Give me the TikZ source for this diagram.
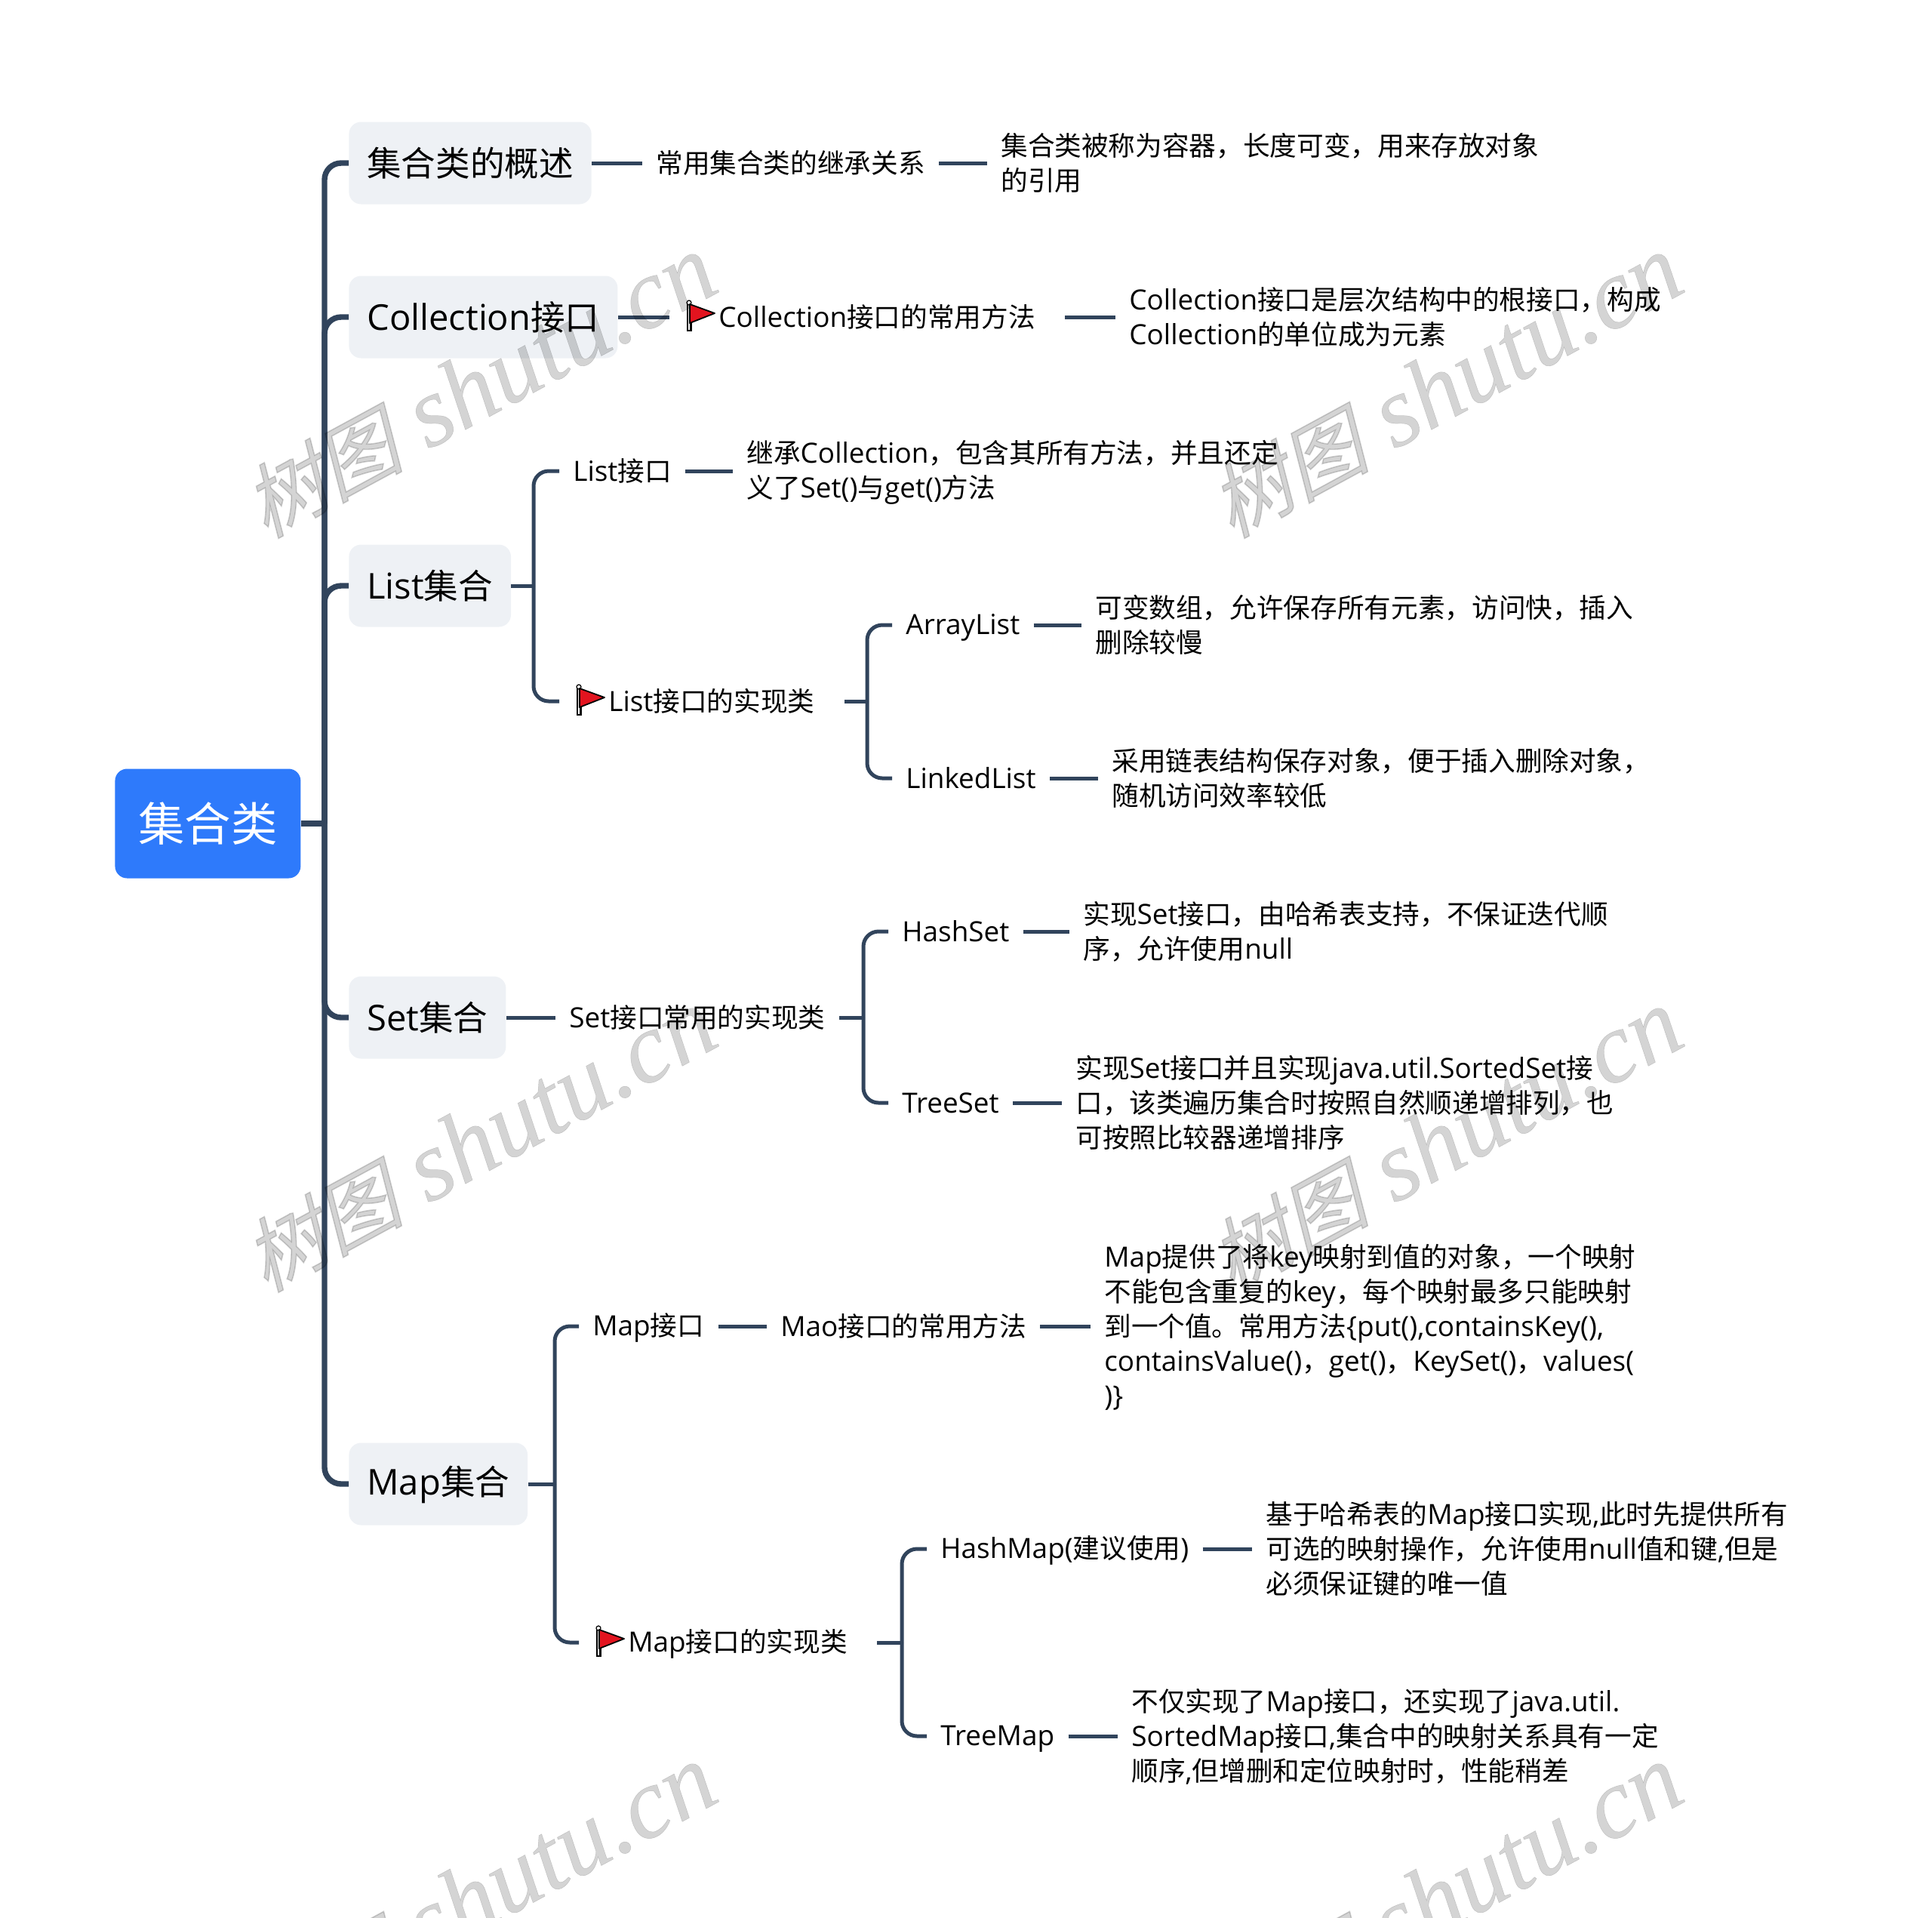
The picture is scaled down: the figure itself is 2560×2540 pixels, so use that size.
\documentclass[tikz,border=0pt]{standalone}
\usepackage{fontspec}
\setmainfont[Scale=1.025]{Open Sans}
\newfontfamily\cjkfont[Scale=0.99]{Noto Sans CJK SC}
\newfontfamily\stampcjk[FakeSlant=0.25,FakeBold=1.5,Scale=0.84]{Noto Sans CJK SC}
\newfontfamily\stamplatin[FakeBold=0.3,Scale=1.05]{Liberation Serif Italic}
% font change between latin and chinese letters
\count255="3000
\loop \XeTeXcharclass\count255=7 \ifnum\count255<"303F \advance\count255 by 1 \repeat
\count255="4E00
\loop \XeTeXcharclass\count255=7 \ifnum\count255<"9FFF \advance\count255 by 1 \repeat
\count255="FF00
\loop \XeTeXcharclass\count255=7 \ifnum\count255<"FFEF \advance\count255 by 1 \repeat
\XeTeXinterchartoks 0 7 = {\cjkfont}
\XeTeXinterchartoks 7 0 = {\rmfamily}
\XeTeXinterchartoks 4095 7 = {\cjkfont}
\XeTeXinterchartoks 4095 0 = {\rmfamily}
\XeTeXinterchartokenstate=1
\definecolor{linkColor}{HTML}{31445C}
\definecolor{boxColor}{HTML}{EEF1F5}
\definecolor{rootColor}{HTML}{2E7AFB}
\definecolor{flagColor}{HTML}{E2141F}
\newcommand{\flagtext}[1]{\hspace*{23.5pt}#1\hspace*{10.5pt}}
\newcommand{\stamptext}{\XeTeXinterchartokenstate=0 {\stampcjk 树图} {\stamplatin shutu.cn}}
\tikzset{
  rootbox/.style={anchor=west, fill=rootColor, text=white, rounded corners=8pt, minimum width=123pt, minimum height=72.5pt, inner xsep=0pt, font=\fontsize{31}{37}\selectfont},
  topicbox/.style={anchor=west, fill=boxColor, rounded corners=8pt, minimum height=54.5pt, inner xsep=12pt, font=\fontsize{23}{28}\selectfont,
    execute at begin node={\rule{0pt}{20pt}}, execute at end node={\rule[-2.6pt]{0pt}{2.6pt}}},
  subtext/.style={anchor=west, align=left, inner xsep=9pt, inner ysep=0pt, font=\fontsize{18}{23}\selectfont,
    execute at begin node={\rule{0pt}{16.9pt}}, execute at end node={\rule[-3.1pt]{0pt}{3.1pt}}},
  longtext/.style={subtext, yshift=-0.8pt},
  trunkline/.style={draw=linkColor, line width=3.7pt, rounded corners=11pt},
  branchline/.style={draw=linkColor, line width=2.5pt, rounded corners=10pt},
  stamp/.style={rotate=28.5, text=black, opacity=0.17, font=\fontsize{63}{70}\selectfont},
  flagmark/.pic={
    \fill[black] (-3.5,-17) rectangle (3.5,19);
    \fill[white] (-0.8,-16) rectangle (0.8,17);
    \draw[black, line width=0.6pt, fill=white] (0,-19) circle (3);
    \draw[black, line width=0.9pt, line join=round, fill=flagColor] (1,-17) -- (34,-5) -- (1,8) -- cycle;
  }
}
\begin{document}
\begin{tikzpicture}
\begin{scope}[x=0.5pt, y=-0.5pt]
  \useasboundingbox (0,0) rectangle (2560,2540);
  % Root and topics
  \node[rootbox] (root) at (152,1091) {集合类};
  \node[topicbox] (overview) at (462,216) {集合类的概述};
  \node[topicbox] (collection) at (462,420) {Collection接口};
  \node[topicbox] (listtopic) at (462,776) {List集合};
  \node[topicbox] (settopic) at (462,1348) {Set集合};
  \node[topicbox] (maptopic) at (462,1966) {Map集合};
  % Overview row
  \node[subtext] (overviewA) at (851,216) {常用集合类的继承关系};
  \node[longtext] (overviewB) at (1308,216) {集合类被称为容器，长度可变，用来存放对象\\的引用};
  % Collection row
  \node[subtext] (collA) at (887,420) {\flagtext{Collection接口的常用方法}};
  \node[longtext] (collB) at (1478,420) {Collection接口是层次结构中的根接口，构成\\Collection的单位成为元素};
  % List rows
  \node[subtext] (listA) at (741,624) {List接口};
  \node[longtext] (listB) at (971,624) {继承Collection，包含其所有方法，并且还定\\义了Set()与get()方法};
  \node[subtext] (listC) at (741,929) {\flagtext{List接口的实现类}};
  \node[subtext] (arrayA) at (1182,828) {ArrayList};
  \node[longtext] (arrayB) at (1433,828) {可变数组，允许保存所有元素，访问快，插入\\删除较慢};
  \node[subtext] (linkedA) at (1182,1031) {LinkedList};
  \node[longtext] (linkedB) at (1455,1031) {采用链表结构保存对象，便于插入删除对象，\\随机访问效率较低};
  % Set rows
  \node[subtext] (setA) at (736,1348) {Set接口常用的实现类};
  \node[subtext] (hashsetA) at (1177,1234) {HashSet};
  \node[longtext] (hashsetB) at (1417,1234) {实现Set接口，由哈希表支持，不保证迭代顺\\序，允许使用null};
  \node[subtext] (treesetA) at (1177,1461) {TreeSet};
  \node[longtext] (treesetB) at (1407,1461) {实现Set接口并且实现java.util.SortedSet接\\口，该类遍历集合时按照自然顺递增排列，也\\可按照比较器递增排序};
  % Map rows
  \node[subtext] (mapA) at (767,1757) {Map接口};
  \node[subtext] (mapB) at (1016,1757) {Mao接口的常用方法};
  \node[longtext] (mapC) at (1445,1757) {Map提供了将key映射到值的对象，一个映射\\不能包含重复的key，每个映射最多只能映射\\到一个值。常用方法\{put(),containsKey(),\\containsValue()，get()，KeySet()，values(\\)\}};
  \node[subtext] (mapD) at (767,2176) {\flagtext{Map接口的实现类}};
  \node[subtext] (hashmapA) at (1228,2052) {HashMap(建议使用)};
  \node[longtext] (hashmapB) at (1659,2052) {基于哈希表的Map接口实现,此时先提供所有\\可选的映射操作，允许使用null值和键,但是\\必须保证键的唯一值};
  \node[subtext] (treemapA) at (1228,2300) {TreeMap};
  \node[longtext] (treemapB) at (1481,2300) {不仅实现了Map接口，还实现了java.util.\\SortedMap接口,集合中的映射关系具有一定\\顺序,但增删和定位映射时，性能稍差};
  % Buses
  \coordinate (rootBus) at (430,1091);
  \coordinate (listBus) at (707,776);
  \coordinate (listImplBus) at (1149,929);
  \coordinate (setBus) at (1144,1348);
  \coordinate (mapBus) at (735,1966);
  \coordinate (mapImplBus) at (1195,2176);
  % Trunk
  \draw[trunkline] (root.east) -- (rootBus);
  \draw[trunkline] (rootBus) |- (overview.west);
  \draw[trunkline] (rootBus) |- (collection.west);
  \draw[trunkline] (rootBus) |- (listtopic.west);
  \draw[trunkline] (rootBus) |- (settopic.west);
  \draw[trunkline] (rootBus) |- (maptopic.west);
  % Straight links
  \draw[branchline] (overview.east) -- (overviewA.west);
  \draw[branchline] (overviewA.east) -- (overviewA.east -| overviewB.west);
  \draw[branchline] (collection.east) -- (collA.west);
  \draw[branchline] (collA.east) -- (collA.east -| collB.west);
  \draw[branchline] (listA.east) -- (listA.east -| listB.west);
  \draw[branchline] (arrayA.east) -- (arrayA.east -| arrayB.west);
  \draw[branchline] (linkedA.east) -- (linkedA.east -| linkedB.west);
  \draw[branchline] (settopic.east) -- (setA.west);
  \draw[branchline] (hashsetA.east) -- (hashsetA.east -| hashsetB.west);
  \draw[branchline] (treesetA.east) -- (treesetA.east -| treesetB.west);
  \draw[branchline] (mapA.east) -- (mapB.west);
  \draw[branchline] (mapB.east) -- (mapB.east -| mapC.west);
  \draw[branchline] (hashmapA.east) -- (hashmapA.east -| hashmapB.west);
  \draw[branchline] (treemapA.east) -- (treemapA.east -| treemapB.west);
  % Forks
  \draw[branchline] (listtopic.east) -- (listBus);
  \draw[branchline] (listBus) |- (listA.west);
  \draw[branchline] (listBus) |- (listC.west);
  \draw[branchline] (listC.east) -- (listImplBus);
  \draw[branchline] (listImplBus) |- (arrayA.west);
  \draw[branchline] (listImplBus) |- (linkedA.west);
  \draw[branchline] (setA.east) -- (setBus);
  \draw[branchline] (setBus) |- (hashsetA.west);
  \draw[branchline] (setBus) |- (treesetA.west);
  \draw[branchline] (maptopic.east) -- (mapBus);
  \draw[branchline] (mapBus) |- (mapA.west);
  \draw[branchline] (mapBus) |- (mapD.west);
  \draw[branchline] (mapD.east) -- (mapImplBus);
  \draw[branchline] (mapImplBus) |- (hashmapA.west);
  \draw[branchline] (mapImplBus) |- (treemapA.west);
  % Flags
  \pic at ([xshift=13pt]collA.west) {flagmark};
  \pic at ([xshift=13pt]listC.west) {flagmark};
  \pic at ([xshift=13pt]mapD.west) {flagmark};
  % Stamps
  \clip (0,0) rectangle (2560,2540);
  \node[stamp] (stampA) at (635,512) {\stamptext};
  \node[stamp] (stampB) at (1915,512) {\stamptext};
  \node[stamp] (stampC) at (635,1511) {\stamptext};
  \node[stamp] (stampD) at (1915,1511) {\stamptext};
  \node[stamp] (stampE) at (635,2512) {\stamptext};
  \node[stamp] (stampF) at (1915,2512) {\stamptext};
\end{scope}
\end{tikzpicture}
\end{document}
